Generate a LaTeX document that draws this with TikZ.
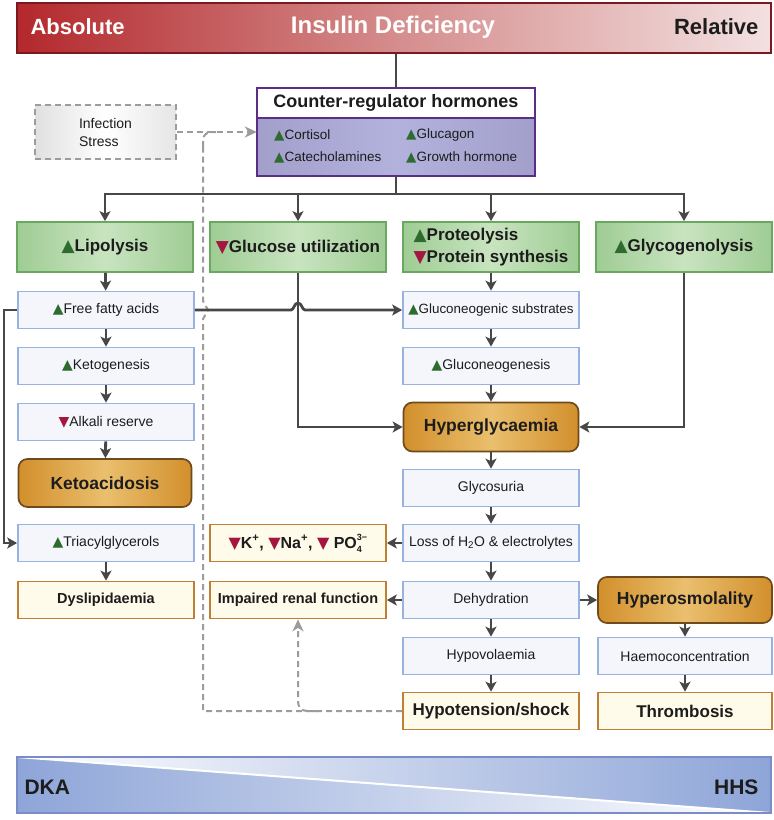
\documentclass[tikz,border=0pt]{standalone}
\usepackage{fontspec}
\setmainfont{Liberation Sans}
\newfontfamily\symfont{DejaVu Sans}
\usetikzlibrary{arrows.meta}
\definecolor{upg}{HTML}{2E6B2E}
\definecolor{dnr}{HTML}{A3163F}
\definecolor{txt}{HTML}{1C1C1C}
\definecolor{bluebd}{HTML}{98B3E0}
\definecolor{bluefill}{HTML}{F4F6FC}
\definecolor{creambd}{HTML}{BF7F35}
\definecolor{creamfill}{HTML}{FFFBEB}
\definecolor{orbd}{HTML}{6E4A1C}
\definecolor{or1}{HTML}{D28F2C}
\definecolor{or2}{HTML}{EABF6E}
\definecolor{grbd}{HTML}{6BA85F}
\definecolor{gr1}{HTML}{9FCC94}
\definecolor{gr2}{HTML}{C8E4C0}
\definecolor{arrc}{HTML}{474747}
\definecolor{dshc}{HTML}{9C9C9C}
\definecolor{pubd}{HTML}{5A2D86}
\definecolor{pu1}{HTML}{A29FCB}
\definecolor{pu2}{HTML}{B3B2DD}
\definecolor{red1}{HTML}{B3282C}
\definecolor{red2}{HTML}{D58C8C}
\definecolor{red3}{HTML}{F3E0E0}
\definecolor{redbd}{HTML}{7A1A20}
\definecolor{bl1}{HTML}{8EA5D8}
\definecolor{blbd}{HTML}{7B8CC8}
\newcommand\triup{{\symfont\textcolor{upg}{▲}}}
\newcommand\tridn{{\symfont\textcolor{dnr}{▼}}}
\newcommand\phosph{PO\rlap{\raisebox{8pt}{\fontsize{9}{10}\selectfont 3−}}\raisebox{-4pt}{\fontsize{9}{10}\selectfont 4}\hspace{5.5pt}}
\tikzset{
 box/.style={minimum width=176pt, minimum height=37pt, inner sep=0pt, line width=1.7pt, text=txt, align=center},
 bbox/.style={box, draw=bluebd, fill=bluefill, font=\fontsize{14}{16}\selectfont},
 cbox/.style={box, draw=creambd, fill=creamfill, font=\bfseries\fontsize{14.5}{17}\selectfont},
 obox/.style={box, minimum height=48pt, rounded corners=9pt, draw=orbd, left color=or1, right color=or1, middle color=or2, font=\bfseries\fontsize{17.5}{20}\selectfont},
 gbox/.style={box, minimum height=50pt, draw=grbd, left color=gr1, right color=gr1, middle color=gr2, font=\bfseries\fontsize{17}{22}\selectfont},
 arr/.style={draw=arrc, line width=2.8pt, -{Stealth[length=10pt,width=11pt,inset=2.5pt]}},
 ln/.style={draw=arrc, line width=2.8pt},
 dsh/.style={draw=dshc, line width=2pt, dash pattern=on 6pt off 4pt},
 darr/.style={dsh, -{Stealth[length=12pt,width=11pt,inset=3.5pt]}},
}
\begin{document}
\begin{tikzpicture}[x=1pt,y=-1pt]
\useasboundingbox (0,0) rectangle (774,820);
\fill[white] (0,0) rectangle (774,820);
% top bar
\node[minimum width=754pt, minimum height=50pt, inner sep=0pt, left color=red1, right color=red3, middle color=red2, draw=redbd, line width=2pt] (bar) at (394,28) {};
\node[anchor=west, text=white, font=\bfseries\fontsize{22}{24}\selectfont] (abs) at (27,27) {Absolute};
\node[text=white, font=\bfseries\fontsize{24}{26}\selectfont] (ins) at (393,27) {Insulin Deficiency};
\node[anchor=east, text=txt, font=\bfseries\fontsize{22}{24}\selectfont] (rel) at (762,27) {Relative};
% counter regulator
\node[fill=white, minimum width=278pt, minimum height=30pt, inner sep=0pt, text=txt, font=\bfseries\fontsize{18}{20}\selectfont] (ct) at (396,103) {Counter-regulator hormones};
\node[minimum width=278pt, minimum height=57pt, inner sep=0pt, left color=pu1, right color=pu1, middle color=pu2] (cb) at (396,147) {};
\draw[draw=pubd, line width=2pt] (ct.north west) rectangle (cb.south east);
\draw[draw=pubd, line width=1.6pt] (ct.south west) -- (ct.south east);
\begin{scope}[every node/.style={anchor=west, text=txt, font=\fontsize{13.5}{15}\selectfont, inner sep=0pt}]
\node (h1) at (274,135) {\triup Cortisol};
\node (h2) at (274,157) {\triup Catecholamines};
\node (h3) at (406,135) {\triup Glucagon};
\node (h4) at (406,157) {\triup Growth hormone};
\end{scope}
\draw[ln] (bar.south -| ct.north) -- (ct.north);
% infection
\node[draw=dshc, line width=1.8pt, dash pattern=on 6pt off 4pt, left color=black!12, right color=black!10, middle color=white, minimum width=141pt, minimum height=54pt, inner sep=0pt, align=left, text=txt, font=\fontsize{14}{18}\selectfont] (inf) at (105.5,132) {Infection\\Stress};
% green row
\node[gbox] (lip) at (105,247) {\triup Lipolysis};
\node[gbox] (glu) at (298,247) {\tridn Glucose utilization};
\node[gbox, align=left] (pro) at (491,247) {\triup Proteolysis\\\tridn Protein synthesis};
\node[gbox] (gly) at (684,247) {\triup Glycogenolysis};
\coordinate (hb) at (396,194);
\draw[ln] (cb.south) -- (hb);
\draw[arr] (hb) -| (lip.north);
\draw[arr] (hb) -| (gly.north);
\draw[arr] (glu.north |- hb) -- (glu.north);
\draw[arr] (pro.north |- hb) -- (pro.north);
% left column
\node[bbox] (ffa) at (106,310) {\triup Free fatty acids};
\node[bbox] (keto) at (106,366) {\triup Ketogenesis};
\node[bbox] (alk) at (106,422) {\tridn Alkali reserve};
\node[obox, minimum width=173pt] (kac) at (105,483) {Ketoacidosis};
\node[bbox] (tri) at (106,543) {\triup Triacylglycerols};
\node[cbox] (dys) at (106,600) {Dyslipidaemia};
% middle-right column
\node[bbox, font=\fontsize{13.4}{16}\selectfont] (subs) at (491,310) {\triup Gluconeogenic substrates};
\node[bbox] (gneo) at (491,366) {\triup Gluconeogenesis};
\node[obox, minimum width=175pt, minimum height=49pt] (hyg) at (491,427) {Hyperglycaemia};
\node[bbox] (glyc) at (491,488) {Glycosuria};
\node[bbox] (loss) at (491,543) {Loss of H\textsubscript{2}O \& electrolytes};
\node[bbox] (deh) at (491,600) {Dehydration};
\node[bbox] (hypov) at (491,656) {Hypovolaemia};
\node[cbox, font=\bfseries\fontsize{17}{20}\selectfont] (hypo) at (491,711) {Hypotension/shock};
% middle column
\node[cbox, font=\bfseries\fontsize{16}{18}\selectfont] (kbox) at (298,543) {\tridn K\textsuperscript{+}, \tridn Na\textsuperscript{+}, \tridn\ \phosph};
\node[cbox] (renal) at (298,600) {Impaired renal function};
% right column
\node[obox, minimum width=174pt, minimum height=46pt] (hosm) at (685,600) {Hyperosmolality};
\node[bbox, minimum width=174pt] (haem) at (685,656) {Haemoconcentration};
\node[cbox, minimum width=174pt, font=\bfseries\fontsize{17}{20}\selectfont] (thr) at (685,711) {Thrombosis};
% dashed lines
\coordinate (dx) at (203,0);
\draw[dsh] (hypo.west) -- (hypo.west -| dx) -- (203,319) -- (208,310) -- (203,301) -- (203,146);
\draw[dsh, rounded corners=8pt] (203,147) -- (203,132) -- (216,132);
\draw[darr] (inf.east) -- (inf.east -| cb.west);
\draw[darr, rounded corners=9pt] (318,711) -| (renal.south);
% solid connectors
\draw[arr] (lip) -- (ffa);
\draw[arr] (ffa) -- (keto);
\draw[arr] (keto) -- (alk);
\draw[arr] (alk) -- (kac);
\draw[arr] (tri) -- (dys);
\draw[arr] (ffa.west) -- (4,310) -- (4,543) -- (tri.west);
\draw[arr] (ffa.east) -- (291,310) .. controls (294,310) and (294,303) .. (298,303) .. controls (302,303) and (302,310) .. (305,310) -- (subs.west);
\draw[arr] (glu.south) |- (hyg.west);
\draw[arr] (gly.south) |- (hyg.east);
\draw[arr] (pro) -- (subs);
\draw[arr] (subs) -- (gneo);
\draw[arr] (gneo) -- (hyg);
\draw[arr] (hyg) -- (glyc);
\draw[arr] (glyc) -- (loss);
\draw[arr] (loss) -- (deh);
\draw[arr] (deh) -- (hypov);
\draw[arr] (hypov) -- (hypo);
\draw[arr] (loss) -- (kbox);
\draw[arr] (deh) -- (renal);
\draw[arr] (deh) -- (hosm);
\draw[arr] (hosm) -- (haem);
\draw[arr] (haem) -- (thr);
% bottom bar
\shade[left color=bl1, right color=white] (17,757) -- (17,813) -- (771,813) -- cycle;
\shade[left color=white, right color=bl1] (17,757) -- (771,757) -- (771,813) -- cycle;
\draw[white, line width=2pt] (17,757) -- (771,813);
\draw[draw=blbd, line width=1.8pt] (17,757) rectangle (771,813);
\node[anchor=west, text=txt, font=\bfseries\fontsize{21}{24}\selectfont] (dka) at (21,787) {DKA};
\node[anchor=east, text=txt, font=\bfseries\fontsize{21}{24}\selectfont] (hhs) at (762,787) {HHS};
\end{tikzpicture}
\end{document}
